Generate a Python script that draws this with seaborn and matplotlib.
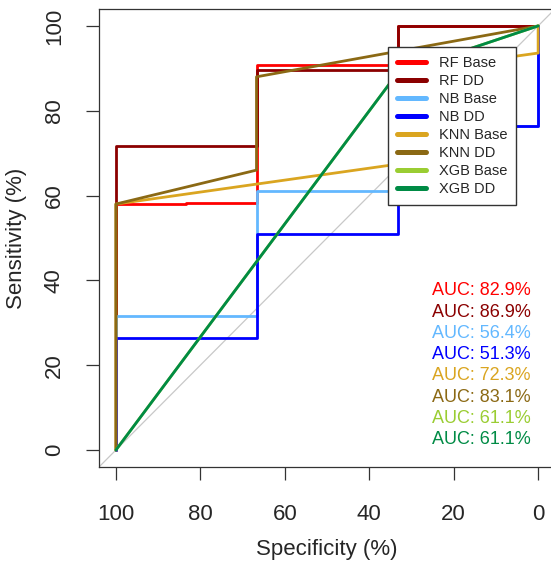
import matplotlib
matplotlib.use("Agg")
import matplotlib.pyplot as plt
import seaborn as sns
import pandas as pd

# curve names, colours and AUC labels
models = ["RF Base", "RF DD", "NB Base", "NB DD", "KNN Base", "KNN DD", "XGB Base", "XGB DD"]
colors = ["#FF0000", "#8B0000", "#63B8FF", "#0000FF", "#DAA520", "#8B6914", "#9ACD32", "#008B45"]
auc = [82.9, 86.9, 56.4, 51.3, 72.3, 83.1, 61.1, 61.1]

# ROC points (specificity %, sensitivity %)
rf_base_spec = [100, 100, 83.4, 83.4, 66.7, 66.7, 33.3, 33.3, 0]
rf_base_sens = [0, 58.0, 58.0, 58.3, 58.3, 90.9, 90.9, 100, 100]
rf_dd_spec = [100, 100, 66.7, 66.7, 33.3, 33.3, 0]
rf_dd_sens = [0, 71.7, 71.7, 89.6, 89.6, 100, 100]
nb_base_spec = [100, 100, 66.7, 66.7, 33.3, 33.3, 0, 0]
nb_base_sens = [0, 31.6, 31.6, 61.1, 61.1, 76.5, 76.5, 100]
nb_dd_spec = [100, 100, 66.7, 66.7, 33.3, 33.3, 0, 0]
nb_dd_sens = [0, 26.5, 26.5, 50.9, 50.9, 76.3, 76.3, 100]
knn_base_spec = [100, 100, 66.7, 33.3, 33.3, 0, 0]
knn_base_sens = [0, 58.0, 62.7, 67.4, 89.0, 93.6, 100]
knn_dd_spec = [100, 100, 66.7, 66.7, 0]
knn_dd_sens = [0, 58.0, 66.0, 88.0, 100]
xgb_base_spec = [100, 33.3, 0]
xgb_base_sens = [0, 88.9, 100]
xgb_dd_spec = [100, 33.3, 0]
xgb_dd_sens = [0, 88.9, 100]

specs = [rf_base_spec, rf_dd_spec, nb_base_spec, nb_dd_spec,
         knn_base_spec, knn_dd_spec, xgb_base_spec, xgb_dd_spec]
senss = [rf_base_sens, rf_dd_sens, nb_base_sens, nb_dd_sens,
         knn_base_sens, knn_dd_sens, xgb_base_sens, xgb_dd_sens]

sns.set_style("white")
plt.rcParams['font.family'] = ['Liberation Sans', 'DejaVu Sans']

fig = plt.figure(figsize=(5.51, 5.67), dpi=100)
ax = fig.add_axes([0.1797, 0.1764, 0.8276, 0.8078])

# chance line
ax.axline((100, 0), (0, 100), color="#C8C8C8", lw=0.9, zorder=1)

for name, col, sp, se in zip(models, colors, specs, senss):
    df = pd.DataFrame({"spec": sp, "sens": se})
    sns.lineplot(data=df, x="spec", y="sens", sort=False, estimator=None,
                 color=col, lw=2, label=name, ax=ax)

ax.set_xlim(104, -4)
ax.set_ylim(-4, 104)
ax.set_xticks([100, 80, 60, 40, 20, 0])
ax.set_yticks([0, 20, 40, 60, 80, 100])
ax.tick_params(axis="both", bottom=True, left=True, length=9.5, width=0.9,
               labelsize=16, color="#333333", direction="out")
ax.tick_params(axis="x", pad=17)
ax.tick_params(axis="y", pad=15, labelrotation=90)
for t in ax.get_yticklabels():
    t.set_va("center")
for s in ax.spines.values():
    s.set_color("#333333")
    s.set_linewidth(0.9)

ax.set_xlabel("Specificity (%)", fontsize=16)
ax.xaxis.set_label_coords(0.5, -0.158)
ax.set_ylabel("")
fig.text(17 / 551, 0.580, "Sensitivity (%)", fontsize=16, rotation=90,
         ha="center", va="center")

# AUC labels
for i, (col, a) in enumerate(zip(colors, auc)):
    ax.text(25.1, 37.5 - 5 * i, f"AUC: {a:.1f}%", color=col, fontsize=13,
            ha="left", va="center")

leg = ax.legend(loc="upper left", bbox_to_anchor=(0.634, 0.917), borderaxespad=0,
                fontsize=10.5, labelspacing=0.28, handlelength=2.0, handletextpad=0.9,
                borderpad=0.6, fancybox=False, framealpha=1, edgecolor="#333333")
leg.get_frame().set_linewidth(1.0)
for ln in leg.get_lines():
    ln.set_linewidth(3.6)

fig.savefig("out.png", dpi=100)
